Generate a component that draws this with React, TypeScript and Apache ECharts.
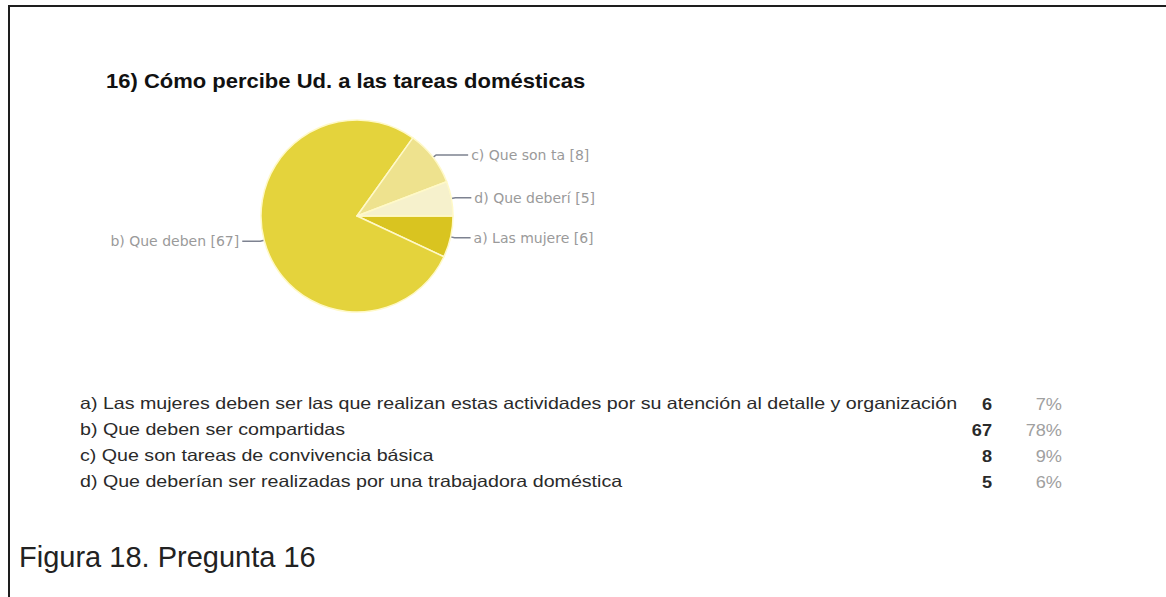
import React, { useEffect, useRef } from "react";
import * as echarts from "echarts";

const fullNames = [
  "a) Las mujeres deben ser las que realizan estas actividades por su atención al detalle y organización",
  "b) Que deben ser compartidas",
  "c) Que son tareas de convivencia básica",
  "d) Que deberían ser realizadas por una trabajadora doméstica",
];
const shortNames = ["a) Las mujere", "b) Que deben", "c) Que son ta", "d) Que deberí"];
const counts = [6, 67, 8, 5];
const sliceColors = ["#D9C420", "#E4D33C", "#EEE28E", "#F6F1CC"];
const lineLen2 = [16, 18, 32, 16];
const titleText = "16) Cómo percibe Ud. a las tareas domésticas";
const captionText = "Figura 18. Pregunta 16";
const rowY = [404, 430, 456, 482];

export default function App() {
  const ref = useRef<HTMLDivElement>(null);
  useEffect(() => {
    document.body.style.margin = "0";
    document.documentElement.style.overflow = "hidden";
    const chart = echarts.init(ref.current!, null, { renderer: "svg" });
    const total = counts.reduce((a, b) => a + b, 0);
    const graphics: any[] = [
      { type: "line", shape: { x1: 8, y1: 6, x2: 1166, y2: 6 }, style: { stroke: "#1e1e1e", lineWidth: 2 } },
      { type: "line", shape: { x1: 9, y1: 6, x2: 9, y2: 597 }, style: { stroke: "#1e1e1e", lineWidth: 2 } },
      {
        type: "text",
        x: 106,
        y: 81,
        scaleX: 1.1,
        style: {
          text: titleText,
          font: "bold 20px 'Liberation Sans', Arial, sans-serif",
          fill: "#111",
          textVerticalAlign: "middle",
        },
      },
      {
        type: "text",
        x: 19,
        y: 557,
        style: {
          text: captionText,
          font: "29px 'Liberation Sans', Arial, sans-serif",
          fill: "#222",
          textVerticalAlign: "middle",
        },
      },
    ];
    fullNames.forEach((n, i) => {
      graphics.push({
        type: "text",
        x: 80,
        y: rowY[i],
        scaleX: 1.19,
        style: { text: n, font: "16.5px 'Liberation Sans', Arial, sans-serif", fill: "#2a2a2a", textVerticalAlign: "middle" },
      });
      graphics.push({
        type: "text",
        x: 992,
        y: rowY[i],
        scaleX: 1.1,
        style: {
          text: String(counts[i]),
          font: "bold 16.5px 'Liberation Sans', Arial, sans-serif",
          fill: "#2a2a2a",
          textAlign: "right",
          textVerticalAlign: "middle",
        },
      });
      graphics.push({
        type: "text",
        x: 1062,
        y: rowY[i],
        scaleX: 1.1,
        style: {
          text: Math.round((counts[i] / total) * 100) + "%",
          font: "16.5px 'Liberation Sans', Arial, sans-serif",
          fill: "#a0a0a0",
          textAlign: "right",
          textVerticalAlign: "middle",
        },
      });
    });
    chart.setOption({
      animation: false,
      backgroundColor: "#ffffff",
      graphic: graphics,
      series: [
        {
          type: "pie",
          center: [357, 216],
          radius: 96,
          startAngle: 0,
          clockwise: true,
          silent: true,
          data: counts.map((v, i) => ({
            value: v,
            name: shortNames[i],
            itemStyle: { color: sliceColors[i] },
            labelLine: { length: 4, length2: lineLen2[i] },
          })),
          itemStyle: { borderColor: "#FFF9C8", borderWidth: 1.5 },
          label: {
            show: true,
            position: "outside",
            formatter: (p: any) => `${p.name} [${p.value}]`,
            color: "#9a9a9a",
            fontSize: 14,
            fontFamily: "'DejaVu Sans', Verdana, sans-serif",
            distanceToLabelLine: 3,
          },
          labelLine: { show: true, lineStyle: { color: "#7d8290", width: 1.5 } },
        },
      ],
    });
    return () => chart.dispose();
  }, []);
  return <div ref={ref} style={{ position: "absolute", left: 0, top: 0, width: 1166, height: 597 }} />;
}
